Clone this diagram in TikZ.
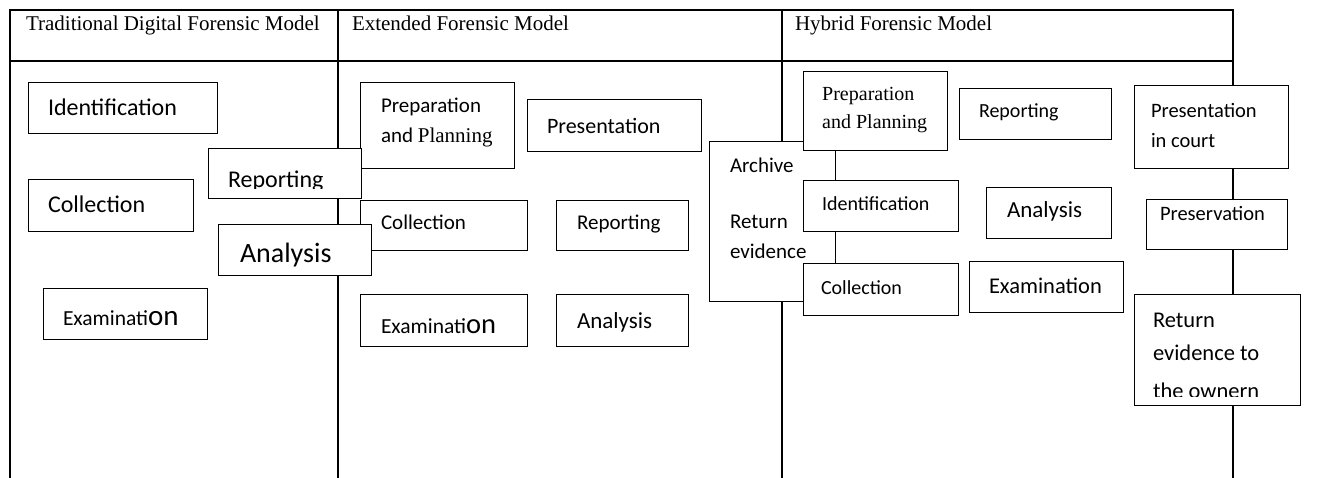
\documentclass[tikz,border=0pt]{standalone}
\usepackage{fontspec}
\setmainfont{Liberation Serif}
\newfontfamily\sansf{Carlito}
\newcommand{\fs}[1]{\fontsize{#1}{#1}\selectfont}
\newcommand{\mkbox}[5]{\node[box, minimum width={#4-#2}, minimum height={#5-#3}] (#1) at (#2,#3) {};}
\tikzset{
  frame/.style={line width=2pt, line cap=rect},
  box/.style={draw=black, line width=1pt, fill=white, anchor=north west, inner sep=0pt, outer sep=0pt},
  lbl/.style={anchor=base west, inner sep=0pt, outer sep=0pt, font=\sansf},
  hdr/.style={anchor=base west, inner sep=0pt, outer sep=0pt, font=\rmfamily\fs{21}},
}
\begin{document}
\begin{tikzpicture}[x=1pt, y=-1pt]
\useasboundingbox[fill=white] (0,0) rectangle (1335,477);
% table frame
\coordinate (tl) at (10,10);
\coordinate (tr) at (1233,10);
\coordinate (hl) at (10,61);
\coordinate (hr) at (1233,61);
\coordinate (bl) at (10,477);
\coordinate (br) at (1233,477);
\coordinate (d1t) at (338,10);
\coordinate (d1b) at (338,477);
\coordinate (d2t) at (782,10);
\coordinate (d2b) at (782,477);
\draw[frame] (bl) -- (tl) -- (tr) -- (br);
\draw[frame] (hl) -- (hr);
\draw[frame] (d1t) -- (d1b);
\draw[frame] (d2t) -- (d2b);
% headers
\node[hdr] (h1) at (26,30) {Traditional Digital Forensic Model};
\node[hdr] (h2) at (352,30) {Extended Forensic Model};
\node[hdr] (h3) at (795,30) {Hybrid Forensic Model};
% ---- Extended model ----
\mkbox{eprep}{360}{82}{514}{168}
\node[lbl] (eprep1) at (381,112) {\fs{21}Preparation};
\node[lbl] (eprep2) at (381,142) {\fs{21}and {\rmfamily Planning}};
\mkbox{epres}{527}{99}{701}{151}
\node[lbl] (eprest) at (547,133) {\fs{22}Presentation};
\mkbox{ecol}{360}{200}{527}{250}
\node[lbl] (ecolt) at (381,229) {\fs{21}Collection};
\mkbox{erep}{556}{200}{688}{250}
\node[lbl] (erept) at (577,229) {\fs{21}Reporting};
\mkbox{eex}{360}{294}{527}{346}
\node[lbl] (eext) at (381,333) {\fs{21.5}Examinati\fs{28.5}on};
\mkbox{ean}{556}{294}{688}{346}
\node[lbl] (eant) at (577,328) {\fs{23}Analysis};
% ---- Traditional model ----
\mkbox{tid}{28}{82}{217}{133}
\node[lbl] (tidt) at (48,115) {\fs{24}Identification};
\mkbox{tcol}{28}{179}{193}{231}
\node[lbl] (tcolt) at (48,212) {\fs{24}Collection};
\mkbox{tex}{43}{288}{207}{339}
\node[lbl] (text) at (63,325) {\fs{21.5}Examinati\fs{29}on};
\mkbox{trep}{208}{148}{361}{198}
\begin{scope}
\clip (208,148) rectangle (361,188);
\node[lbl] (trept) at (228,187) {\fs{24}Reporting};
\end{scope}
\mkbox{tan}{218}{224}{371}{275}
\node[lbl] (tant) at (240,262) {\fs{28}Analysis};
% ---- Archive box (between extended and hybrid) ----
\mkbox{arch}{709}{141}{835}{301}
\node[lbl] (archt1) at (730,172) {\fs{21}Archive};
\node[lbl] (archt2) at (730,228) {\fs{21}Return};
\node[lbl] (archt3) at (730,258) {\fs{21}evidence};
% ---- Hybrid model ----
\mkbox{hprep}{803}{71}{947}{150}
\node[anchor=base west, inner sep=0pt] (hprep1) at (822,100) {\fs{20}Preparation};
\node[anchor=base west, inner sep=0pt] (hprep2) at (822,128) {\fs{20}and Planning};
\mkbox{hrep}{959}{88}{1111}{139}
\node[lbl] (hrept) at (979,117) {\fs{20}Reporting};
\mkbox{hpres}{1134}{85}{1288}{168}
\node[lbl] (hpres1) at (1151,117) {\fs{20.5}Presentation};
\node[lbl] (hpres2) at (1151,147) {\fs{20.5}in court};
\mkbox{hid}{803}{180}{958}{231}
\node[lbl] (hidt) at (822,210) {\fs{20}Identification};
\mkbox{han}{986}{187}{1111}{238}
\node[lbl] (hant) at (1007,217) {\fs{23}Analysis};
\mkbox{hpsv}{1146}{199}{1287}{249}
\node[lbl] (hpsvt) at (1160,220) {\fs{20.5}Preservation};
\mkbox{hcol}{803}{263}{958}{315}
\node[lbl] (hcolt) at (821,294) {\fs{20}Collection};
\mkbox{hex}{969}{261}{1123}{312}
\node[lbl] (hext) at (989,293) {\fs{22.5}Examination};
\mkbox{hret}{1134}{294}{1300}{405}
\node[lbl] (hret1) at (1153,327) {\fs{22.5}Return};
\node[lbl] (hret2) at (1153,360) {\fs{22.5}evidence to};
\begin{scope}
\clip (1134,294) rectangle (1300,396);
\node[lbl] (hret3) at (1153,398) {\fs{22.5}the ownern};
\end{scope}
\end{tikzpicture}
\end{document}
